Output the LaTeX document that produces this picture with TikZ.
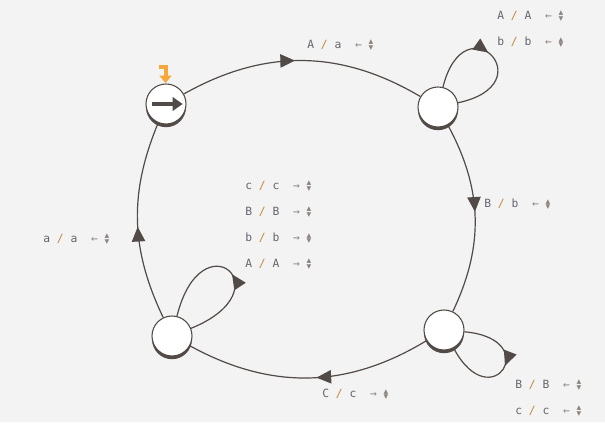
\documentclass[tikz,border=0pt]{standalone}
\usepackage{fontspec}
\usepackage{tikz}
\usetikzlibrary{arrows.meta}
\usetikzlibrary{decorations.markings}
\usetikzlibrary{shadows}
\newfontfamily\lblfont{DejaVu Sans Mono}
\newfontfamily\symfont{DejaVu Sans}
\definecolor{bgc}{HTML}{F3F3F3}
\definecolor{linec}{HTML}{514A46}
\definecolor{letterc}{HTML}{67646E}
\definecolor{slashc}{HTML}{C0893F}
\definecolor{markc}{HTML}{8C847E}
\definecolor{startc}{HTML}{F6A73B}
\newcommand{\updn}{{\symfont\fontsize{7}{7}\selectfont\ooalign{\raisebox{.65ex}{▴}\cr\raisebox{-.35ex}{▾}}}}
\newcommand{\tlabel}[3]{\textcolor{letterc}{#1}~\textcolor{slashc}{/}~\textcolor{letterc}{#2}~~\textcolor{markc}{#3~\updn}}
\tikzset{
  state/.style={circle, draw=linec, line width=0.8pt, fill=white, minimum size=30pt, inner sep=0pt,
    drop shadow={shadow xshift=0pt, shadow yshift=-2.4pt, fill=linec, opacity=1}},
  trans/.style={draw=linec, line width=0.9pt, postaction={decorate,
    decoration={markings, mark=at position 0.47 with {\arrow{Triangle[length=11pt,width=10pt]}}}}},
  tlab/.style={anchor=west, inner sep=0pt, font=\lblfont\fontsize{8.5}{10}\selectfont}
}
\begin{document}
\begin{tikzpicture}[x=0.75pt, y=0.75pt]
\useasboundingbox (0,0) rectangle (605,422);
\fill[bgc] (0,0) rectangle (605,422);
\node[state] (q0) at (166,318) {};
\node[state] (q1) at (438,315) {};
\node[state] (q2) at (444,92) {};
\node[state] (q3) at (172,86) {};
\draw[linec, line width=3.5pt, -{Triangle[length=7.5pt,width=10pt]}] ([xshift=-10.5pt]q0.center) -- ([xshift=12.5pt]q0.center);
\coordinate (s0) at (159,355);
\draw[startc, line width=3pt, -{Triangle[length=5.5pt,width=9pt]}] (s0) -- ++(6.5,0) -- ++(0,-16);
\draw[trans] (q0) to[bend left=30] (q1);
\draw[trans] (q1) to[bend left=27] (q2);
\draw[trans] (q2) to[bend left=30] (q3);
\draw[trans] (q3) to[bend left=24] (q0);
\draw[trans] (q1) to[out=76, in=12, looseness=10.5] (q1);
\draw[trans] (q2) to[out=-5, in=-62, looseness=10.5] (q2);
\draw[trans] (q3) to[out=22, in=76, looseness=14] (q3);
\node[tlab] (l01) at (307,377) {\tlabel{A}{a}{←}};
\node[tlab] (l11a) at (497,406) {\tlabel{A}{A}{←}};
\node[tlab] (l11b) at (497,380) {\tlabel{b}{b}{←}};
\node[tlab] (l12) at (484,218) {\tlabel{B}{b}{←}};
\node[tlab] (l22a) at (515,37) {\tlabel{B}{B}{←}};
\node[tlab] (l22b) at (515,11) {\tlabel{c}{c}{←}};
\node[tlab] (l23) at (322,28) {\tlabel{C}{c}{→}};
\node[tlab] (l30) at (43,183) {\tlabel{a}{a}{←}};
\node[tlab] (l33a) at (245,236) {\tlabel{c}{c}{→}};
\node[tlab] (l33b) at (245,210) {\tlabel{B}{B}{→}};
\node[tlab] (l33c) at (245,184) {\tlabel{b}{b}{→}};
\node[tlab] (l33d) at (245,158) {\tlabel{A}{A}{→}};
\end{tikzpicture}
\end{document}
